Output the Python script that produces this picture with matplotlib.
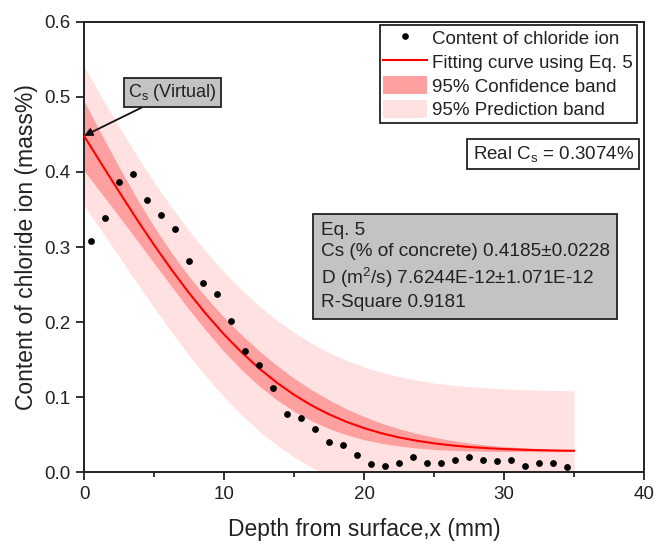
import numpy as np
import matplotlib
matplotlib.use('Agg')
import matplotlib.pyplot as plt
from matplotlib.lines import Line2D
from matplotlib.patches import Patch

plt.rcParams['font.family'] = ['Liberation Sans', 'DejaVu Sans']
plt.rcParams['mathtext.fontset'] = 'custom'
plt.rcParams['mathtext.rm'] = 'Liberation Sans'

# measured chloride content
depth = [0.5, 1.5, 2.5, 3.5, 4.5, 5.5, 6.5, 7.5, 8.5, 9.5, 10.5, 11.5, 12.5, 13.5,
         14.5, 15.5, 16.5, 17.5, 18.5, 19.5, 20.5, 21.5, 22.5, 23.5, 24.5, 25.5,
         26.5, 27.5, 28.5, 29.5, 30.5, 31.5, 32.5, 33.5, 34.5]
chloride = [0.308, 0.339, 0.386, 0.397, 0.363, 0.343, 0.324, 0.281, 0.252, 0.237,
            0.201, 0.161, 0.143, 0.112, 0.078, 0.072, 0.058, 0.041, 0.036, 0.023,
            0.011, 0.009, 0.013, 0.020, 0.012, 0.012, 0.016, 0.020, 0.017, 0.015,
            0.017, 0.008, 0.013, 0.013, 0.007]

# fitting curve and bands (Eq. 5)
x_fit = [0, 1.25, 2.5, 3.75, 5, 6.25, 7.5, 8.75, 10, 11.25, 12.5, 13.75, 15,
         16.25, 17.5, 18.75, 20, 21.25, 22.5, 23.75, 25, 26.25, 27.5, 28.75,
         30, 31.25, 32.5, 33.75, 35]
fit = [0.4480, 0.4106, 0.3737, 0.3376, 0.3028, 0.2699, 0.2388, 0.2101, 0.1837,
       0.1599, 0.1385, 0.1197, 0.1033, 0.0892, 0.0773, 0.0672, 0.0589, 0.0520,
       0.0465, 0.0421, 0.0386, 0.0359, 0.0338, 0.0322, 0.0310, 0.0302, 0.0295,
       0.0290, 0.0287]
conf_lo = [0.4017, 0.3713, 0.3407, 0.3098, 0.2785, 0.2475, 0.2169, 0.1879, 0.1609,
           0.1367, 0.1152, 0.0968, 0.0813, 0.0685, 0.0582, 0.0499, 0.0435, 0.0386,
           0.0350, 0.0324, 0.0305, 0.0293, 0.0285, 0.0280, 0.0277, 0.0277, 0.0276,
           0.0276, 0.0277]
conf_hi = [0.4943, 0.4499, 0.4067, 0.3654, 0.3271, 0.2923, 0.2607, 0.2323, 0.2065,
           0.1831, 0.1618, 0.1426, 0.1253, 0.1099, 0.0964, 0.0845, 0.0743, 0.0654,
           0.0580, 0.0518, 0.0467, 0.0425, 0.0391, 0.0364, 0.0343, 0.0327, 0.0314,
           0.0304, 0.0297]
pred_lo = [0.3556, 0.3215, 0.2872, 0.2529, 0.2192, 0.1868, 0.1559, 0.1271, 0.1005,
           0.0766, 0.0552, 0.0365, 0.0203, 0.0066, -0.0049, -0.0146, -0.0226,
           -0.0291, -0.0343, -0.0385, -0.0418, -0.0444, -0.0464, -0.0480, -0.0491,
           -0.0498, -0.0505, -0.0510, -0.0513]
pred_hi = [0.5404, 0.4997, 0.4602, 0.4223, 0.3864, 0.3530, 0.3217, 0.2931, 0.2669,
           0.2432, 0.2218, 0.2029, 0.1863, 0.1718, 0.1595, 0.1490, 0.1404, 0.1331,
           0.1273, 0.1227, 0.1190, 0.1162, 0.1140, 0.1124, 0.1111, 0.1102, 0.1095,
           0.1090, 0.1087]

conf_col = '#ffa0a0'
pred_col = '#ffe1e1'
ink = '#222222'

fig = plt.figure(figsize=(6.67, 5.57), dpi=100)
ax = fig.add_axes([0.126, 0.152, 0.8395, 0.809])

ax.fill_between(x_fit, pred_lo, pred_hi, color=pred_col, lw=0, zorder=1)
ax.fill_between(x_fit, conf_lo, conf_hi, color=conf_col, lw=0, zorder=2)
ax.plot(x_fit, fit, color='#ff0000', lw=1.5, zorder=3)
ax.scatter(depth, chloride, s=15, color='black', zorder=4)

ax.set_xlim(0, 40)
ax.set_ylim(0, 0.6)
ax.set_xticks([0, 10, 20, 30, 40])
ax.set_xticks([5, 15, 25, 35], minor=True)
ax.set_yticks([0.0, 0.1, 0.2, 0.3, 0.4, 0.5, 0.6])
ax.set_yticklabels(['0.0', '0.1', '0.2', '0.3', '0.4', '0.5', '0.6'])
ax.tick_params(axis='both', which='major', direction='out', length=5.5, width=1.3,
               labelsize=13.5, colors=ink, pad=4)
ax.tick_params(axis='x', which='minor', direction='out', length=3.5, width=1.3, colors=ink)
for s in ax.spines.values():
    s.set_linewidth(1.4)
    s.set_color(ink)

ax.set_xlabel('Depth from surface,x (mm)', fontsize=16.5, labelpad=11, color=ink)
ax.set_ylabel('Content of chloride ion (mass%)', fontsize=16.5, labelpad=5, color=ink)

handles = [
    Line2D([], [], marker='o', ls='none', color='black', markersize=3.8),
    Line2D([], [], color='#ff0000', lw=1.5),
    Patch(facecolor=conf_col, edgecolor='none'),
    Patch(facecolor=pred_col, edgecolor='none'),
]
labels = ['Content of chloride ion', 'Fitting curve using Eq. 5',
          '95% Confidence band', '95% Prediction band']
leg = ax.legend(handles, labels, loc='upper right', bbox_to_anchor=(0.9875, 0.9927),
                fontsize=13.5, frameon=True, fancybox=False, edgecolor=ink,
                framealpha=1, borderaxespad=0, handlelength=2.35, handleheight=1.1,
                handletextpad=0.27, labelspacing=0.23, borderpad=0.2)
leg.get_frame().set_linewidth(1.3)
for t in leg.get_texts():
    t.set_color(ink)

ax.text(0.9818, 0.706, r'Real C$\mathregular{_s}$ = 0.3074%', transform=ax.transAxes,
        ha='right', va='center', fontsize=13.5, color=ink,
        bbox=dict(boxstyle='square,pad=0.28', fc='white', ec=ink, lw=1.3))

eq_text = ('Eq. 5\nCs (% of concrete) 0.4185\u00b10.0228\n'
           r'D (m$\mathregular{^2}$/s) 7.6244E-12' '\u00b11.071E-12\nR-Square 0.9181')
ax.text(0.4227, 0.556, eq_text, transform=ax.transAxes, ha='left', va='top',
        fontsize=13.7, color=ink, linespacing=1.33,
        bbox=dict(boxstyle='square,pad=0.4', fc='#c3c3c3', ec=ink, lw=1.3))

ax.annotate(r'C$\mathregular{_s}$ (Virtual)', xy=(0, 0.448), xytext=(6.3, 0.5057),
            fontsize=13, color=ink, ha='center', va='center',
            bbox=dict(boxstyle='square,pad=0.22', fc='#c3c3c3', ec=ink, lw=1.3),
            arrowprops=dict(arrowstyle='-|>', color='#111111', lw=1.3,
                            mutation_scale=12, shrinkA=0, shrinkB=0),
            zorder=6)

fig.savefig('out.png', dpi=100)
